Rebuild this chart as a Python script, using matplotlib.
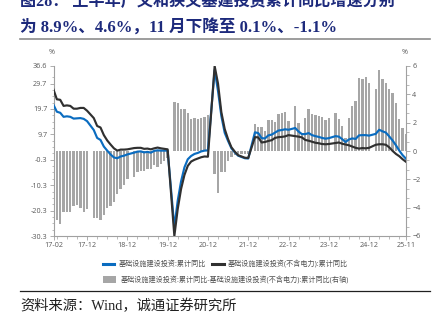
import numpy as np
import pandas as pd
import matplotlib
matplotlib.use("Agg")
import matplotlib.pyplot as plt
from matplotlib.lines import Line2D
from matplotlib.patches import Patch
from matplotlib.ticker import AutoMinorLocator, FixedLocator

# monthly axis 2017-02 .. 2025-11, January slots are empty (Jan-Feb reported together)
months = pd.period_range("2017-02", "2025-11", freq="M")

# 基础设施建设投资(不含电力):累计同比, %
infra_ex_power = [
    27.3, 23.5, 23.3, 20.9, 21.1, 20.9, 19.8, 19.8, 20.1, 20.1, 19.0,
    None, 16.1, 13.0, 12.4, 9.4, 7.3, 5.7, 4.2, 3.3, 3.7, 3.7, 3.8,
    None, 4.3, 4.4, 4.4, 4.0, 4.1, 3.8, 4.2, 4.5, 4.2, 4.0, 3.8,
    None, -30.3, -19.7, -11.8, -6.3, -2.7, -1.0, -0.3, 0.2, 0.7, 1.0, 0.9,
    None, 36.6, 29.7, 18.4, 11.8, 7.8, 4.6, 2.9, 1.5, 1.0, 0.5, 0.4,
    None, 8.6, 8.5, 6.5, 6.7, 7.1, 7.4, 8.3, 8.6, 8.7, 8.9, 9.4,
    None, 9.0, 8.8, 8.5, 7.5, 7.2, 6.8, 6.4, 6.2, 5.9, 5.8, 5.9,
    None, 6.3, 6.5, 6.0, 5.7, 5.4, 4.9, 4.4, 4.1, 4.3, 4.2, 4.4,
    None, 5.6, 5.8, 5.8, 5.6, 4.6, 3.2, 2.0, 1.1, -0.1, -1.1,
]

# 基础设施建设投资:累计同比, %
infra_total = [
    21.3, 18.6, 18.2, 16.6, 16.8, 16.6, 15.9, 16.0, 16.1, 15.8, 14.9,
    None, 11.4, 8.3, 7.5, 4.9, 3.3, 1.8, 0.6, 0.3, 1.0, 1.3, 1.8,
    None, 2.5, 2.9, 3.0, 2.6, 2.8, 2.5, 3.2, 3.4, 3.3, 3.3, 3.3,
    None, -26.9, -16.4, -8.8, -3.3, -0.1, 1.2, 2.0, 2.4, 3.0, 3.3, 3.4,
    None, 35.0, 26.8, 16.9, 10.3, 7.1, 4.2, 2.6, 1.3, 0.8, 0.3, 0.2,
    None, 10.5, 10.2, 8.2, 8.1, 9.3, 9.6, 10.4, 11.2, 11.4, 11.7, 11.5,
    None, 12.2, 10.8, 9.8, 9.8, 10.2, 9.4, 9.0, 8.7, 8.3, 8.0, 8.2,
    None, 9.0, 8.8, 7.8, 6.7, 7.7, 8.1, 7.9, 9.3, 9.4, 9.4, 9.2,
    None, 9.9, 11.5, 10.9, 10.4, 8.9, 7.3, 5.4, 3.3, 1.5, 0.1,
]

# spread between the two (right axis), pct points
spread = [
    -6.0, -4.9, -5.15, -4.3, -4.3, -4.3, -3.9, -3.8, -4.0, -4.3, -4.1,
    None, -4.75, -4.75, -4.85, -4.5, -4.0, -3.9, -3.6, -3.0, -2.7, -2.4, -2.0,
    None, -1.85, -1.5, -1.4, -1.4, -1.3, -1.3, -1.0, -1.1, -0.9, -0.7, -0.5,
    None, 3.43, 3.36, 3.0, 3.0, 2.65, 2.25, 2.3, 2.25, 2.35, 2.4, 2.55,
    None, -1.65, -2.95, -1.5, -1.5, -0.7, -0.4, -0.3, -0.2, -0.2, -0.2, -0.2,
    None, 1.94, 1.7, 1.7, 1.4, 2.18, 2.18, 2.06, 2.58, 2.7, 2.77, 2.11,
    None, 3.17, 2.0, 1.3, 2.3, 2.95, 2.6, 2.55, 2.45, 2.4, 2.2, 2.3,
    None, 2.65, 2.25, 1.8, 0.95, 2.3, 3.2, 3.5, 5.15, 5.05, 5.2, 4.8,
    None, 4.35, 5.7, 5.1, 4.8, 4.35, 4.1, 3.4, 2.25, 1.6, 1.2,
]

tick_months = ["2017-02", "2017-12", "2018-12", "2019-12", "2020-12",
               "2021-12", "2022-12", "2023-12", "2024-12", "2025-11"]
left_ticks = [-30.3, -20.3, -10.3, -0.3, 9.7, 19.7, 29.7, 36.6]
right_ticks = [-6, -4, -2, 0, 2, 4, 6]

BLUE = "#0a6cc0"
DARK = "#303030"
GREY = "#a6a6a6"
NAVY = "#1d2a7c"
TICK_C = "#595959"

plt.rcParams["font.family"] = ["Open Sans", "Noto Sans CJK SC", "DejaVu Sans"]

W, H = 441, 325
fig = plt.figure(figsize=(W / 100, H / 100), dpi=100)

def fx(px):
    return px / W

def fy(py):
    return 1 - py / H

ax = fig.add_axes([fx(53.5), fy(236), fx(406) - fx(53.5), fy(66) - fy(236)])
ax2 = ax.twinx()
ax.set_zorder(ax2.get_zorder() + 1)
ax.patch.set_visible(False)

df = pd.DataFrame({"total": infra_total, "ex_power": infra_ex_power, "spread": spread},
                  index=months, dtype=float)
x = np.arange(len(df))

# spread bars on the right axis
ax2.bar(x, df["spread"].fillna(0), width=0.72, color=GREY, linewidth=0)

# lines skip the empty January slots
ok = df["total"].notna()
ax.plot(x[ok], df["total"][ok], color=BLUE, lw=1.55, solid_joinstyle="round", zorder=3)
ok = df["ex_power"].notna()
ax.plot(x[ok], df["ex_power"][ok], color=DARK, lw=1.55, solid_joinstyle="round", zorder=4)

ax.set_xlim(0, len(df) - 1)
ax.set_ylim(-30.3, 36.6)
ax2.set_ylim(-6, 6)

tick_pos = [months.get_loc(pd.Period(m, freq="M")) for m in tick_months]
ax.set_xticks(tick_pos)
ax.set_xticklabels([m[2:] for m in tick_months])
minor_x = [i for i in range(1, len(df), 3) if i not in tick_pos]
ax.xaxis.set_minor_locator(FixedLocator(minor_x))

ax.set_yticks(left_ticks)
ax.set_yticklabels([f"{v:.1f}" for v in left_ticks])
ax.yaxis.set_minor_locator(FixedLocator(np.arange(-30.3, 34, 2.5)))
ax2.set_yticks(right_ticks)
ax2.yaxis.set_minor_locator(AutoMinorLocator(3))

for a in (ax, ax2):
    a.spines["top"].set_visible(False)
    for side in ("left", "right", "bottom"):
        a.spines[side].set_color("#a0a0a0")
        a.spines[side].set_linewidth(0.8)
    a.tick_params(which="major", length=3, width=0.6, color="#a0a0a0",
                  labelsize=5.2, labelcolor=TICK_C, pad=1.5)
    a.tick_params(which="minor", length=1.8, width=0.5, color="#a0a0a0")
ax.spines["right"].set_visible(False)
ax2.spines["left"].set_visible(False)
ax2.spines["bottom"].set_visible(False)

fig.text(fx(52), fy(53), "%", fontsize=5.2, color=TICK_C, ha="center", va="center")
fig.text(fx(405), fy(53), "%", fontsize=5.2, color=TICK_C, ha="center", va="center")

# legend: two rows
leg_font = {"size": 5.1}
h1 = [Line2D([], [], color=BLUE, lw=2.2), Line2D([], [], color=DARK, lw=2.2)]
leg1 = fig.legend(h1, ["基础设施建设投资:累计同比", "基础设施建设投资(不含电力):累计同比"],
                  loc="center left", bbox_to_anchor=(fx(103), fy(264)), ncol=2,
                  frameon=False, prop=leg_font, handlelength=1.6, handletextpad=0.6,
                  columnspacing=0.9, borderpad=0, borderaxespad=0)
h2 = [Patch(facecolor=GREY, edgecolor="none")]
leg2 = fig.legend(h2, ["基础设施建设投资:累计同比-基础设施建设投资(不含电力):累计同比(右轴)"],
                  loc="center left", bbox_to_anchor=(fx(103), fy(280)),
                  frameon=False, prop=leg_font, handlelength=1.9, handleheight=1.1,
                  handletextpad=0.6, borderpad=0, borderaxespad=0)
for leg in (leg1, leg2):
    for t in leg.get_texts():
        t.set_color("#505050")

# title block
title_font = ["Liberation Serif", "Noto Sans CJK SC"]
fig.text(fx(20), fy(1.5), "图28： 上半年广义和狭义基建投资累计同比增速分别",
         family=title_font, fontsize=11.6, fontweight="bold", color=NAVY, va="center")
fig.text(fx(20), fy(27), "为 8.9%、4.6%，11 月下降至 0.1%、-1.1%",
         family=title_font, fontsize=12, fontweight="bold", color=NAVY, va="center")
fig.add_artist(Line2D([fx(20), fx(430)], [fy(39), fy(39)], color="#8c8c8c", lw=1.2))

# source note
fig.add_artist(Line2D([fx(20), fx(430)], [fy(291), fy(291)], color="#202020", lw=0.9))
fig.text(fx(20), fy(306), "资料来源：Wind，诚通证券研究所",
         family=title_font, fontsize=10.3, color="#202020", va="center")

fig.savefig("out.png", dpi=100)
